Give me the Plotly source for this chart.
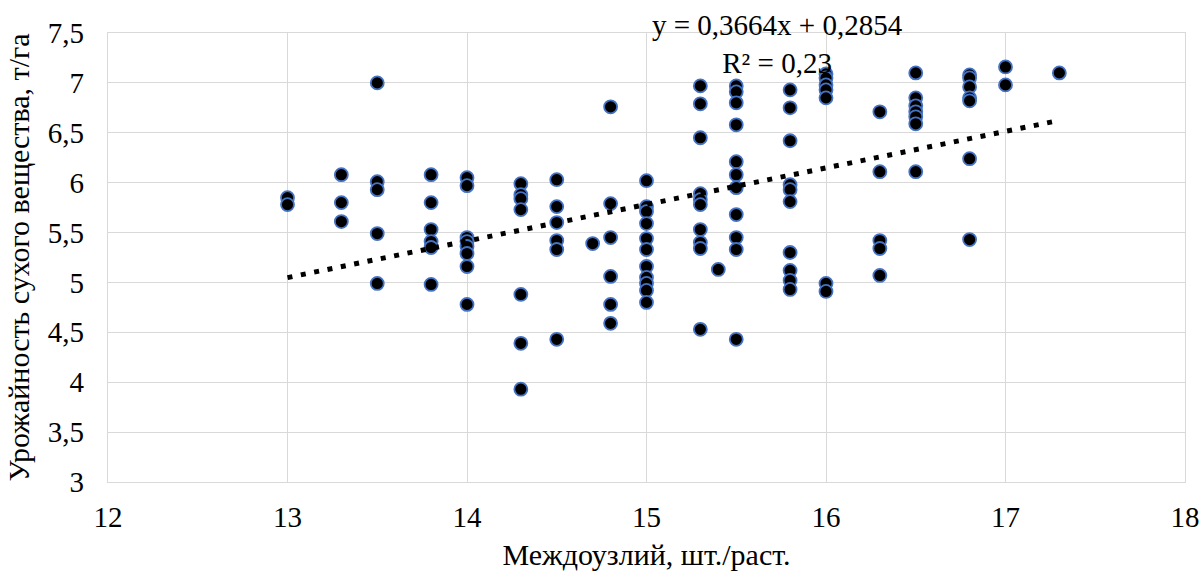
import plotly.graph_objects as go

# Междоузлий, шт./раст. (x) and Урожайность сухого вещества, т/га (y)
x_internodes = (
    [13.0] * 2 + [13.3] * 3 + [13.5] * 5 + [13.8] * 6 + [14.0] * 8 +
    [14.3] * 7 + [14.5] * 6 + [14.7] * 1 + [14.8] * 6 + [15.0] * 11 +
    [15.3] * 10 + [15.4] * 1 + [15.5] * 11 + [15.8] * 10 + [16.0] * 7 +
    [16.3] * 5 + [16.5] * 7 + [16.8] * 7 + [17.0] * 2 + [17.3] * 1
)
y_yield = [
    5.85, 5.78,
    6.08, 5.80, 5.61,
    7.00, 6.01, 5.93, 5.49, 4.99,
    6.08, 5.80, 5.53, 5.41, 5.35, 4.98,
    6.05, 5.97, 5.45, 5.41, 5.36, 5.29, 5.16, 4.78,
    5.99, 5.88, 5.84, 5.73, 4.88, 4.39, 3.93,
    6.03, 5.76, 5.60, 5.42, 5.33, 4.43,
    5.39,
    6.76, 5.79, 5.45, 5.06, 4.78, 4.59,
    6.02, 5.76, 5.71, 5.59, 5.44, 5.33, 5.16, 5.05, 4.99, 4.92, 4.80,
    6.97, 6.79, 6.45, 5.89, 5.83, 5.78, 5.53, 5.40, 5.34, 4.53,
    5.13,
    6.97, 6.91, 6.80, 6.58, 6.21, 6.08, 5.95, 5.68, 5.45, 5.33, 4.43,
    6.93, 6.75, 6.42, 5.98, 5.93, 5.81, 5.30, 5.12, 5.02, 4.93,
    7.09, 7.05, 6.98, 6.93, 6.85, 4.99, 4.91,
    6.71, 6.11, 5.42, 5.34, 5.07,
    7.10, 6.85, 6.77, 6.71, 6.66, 6.59, 6.11,
    7.08, 7.05, 6.96, 6.85, 6.82, 6.24, 5.43,
    7.16, 6.98,
    7.10,
]

# Linear trendline from the chart's label
trend_slope = 0.3664
trend_intercept = 0.2854
trend_r2 = "0,23"
trend_x = [min(x_internodes), max(x_internodes)]
trend_y = [trend_slope * v + trend_intercept for v in trend_x]

x_ticks = [12, 13, 14, 15, 16, 17, 18]
y_ticks = [3, 3.5, 4, 4.5, 5, 5.5, 6, 6.5, 7, 7.5]

FONT = "Liberation Serif, Times New Roman, serif"
GRID = "#d9d9d9"

fig = go.Figure()
fig.add_trace(go.Scatter(
    x=x_internodes, y=y_yield, mode="markers",
    marker=dict(size=13, color="black", line=dict(color="#4472C4", width=1.8)),
    showlegend=False, hoverinfo="x+y",
))
fig.add_trace(go.Scatter(
    x=trend_x, y=trend_y, mode="lines",
    line=dict(color="black", width=5, dash="5px,8.6px"),
    showlegend=False, hoverinfo="skip",
))

fig.add_annotation(
    x=15.73, y=7.39, xref="x", yref="y",
    text="y = 0,3664x + 0,2854<br>R² = " + trend_r2,
    showarrow=False, align="center", xanchor="center", yanchor="middle",
    font=dict(family=FONT, size=29, color="black"),
)

fig.update_layout(
    width=1203, height=571, autosize=False,
    margin=dict(l=108, r=18, t=33, b=89),
    paper_bgcolor="white", plot_bgcolor="white",
    separators=", ",
    font=dict(family=FONT, size=29, color="black"),
)
fig.update_xaxes(
    range=[12, 18], tickvals=x_ticks, showgrid=True, gridcolor=GRID, gridwidth=1.3,
    showline=True, linecolor=GRID, linewidth=1.3, mirror=True, zeroline=False,
    ticks="", ticklabelstandoff=9, automargin=False,
    tickfont=dict(family=FONT, size=29, color="black"),
    title=dict(text="Междоузлий, шт./раст.", standoff=16,
               font=dict(family=FONT, size=30, color="black")),
)
fig.update_yaxes(
    range=[3, 7.5], tickvals=y_ticks, showgrid=True, gridcolor=GRID, gridwidth=1.3,
    showline=True, linecolor=GRID, linewidth=1.3, mirror=True, zeroline=False,
    ticks="", ticklabelstandoff=17, tickformat=".1~f", automargin=False,
    tickfont=dict(family=FONT, size=29, color="black"),
    title=dict(text="Урожайность сухого вещества, т/га", standoff=9,
               font=dict(family=FONT, size=30, color="black")),
)

fig.write_html("out.html", config={"displayModeBar": False},
               post_script="document.body.style.margin='0';")
